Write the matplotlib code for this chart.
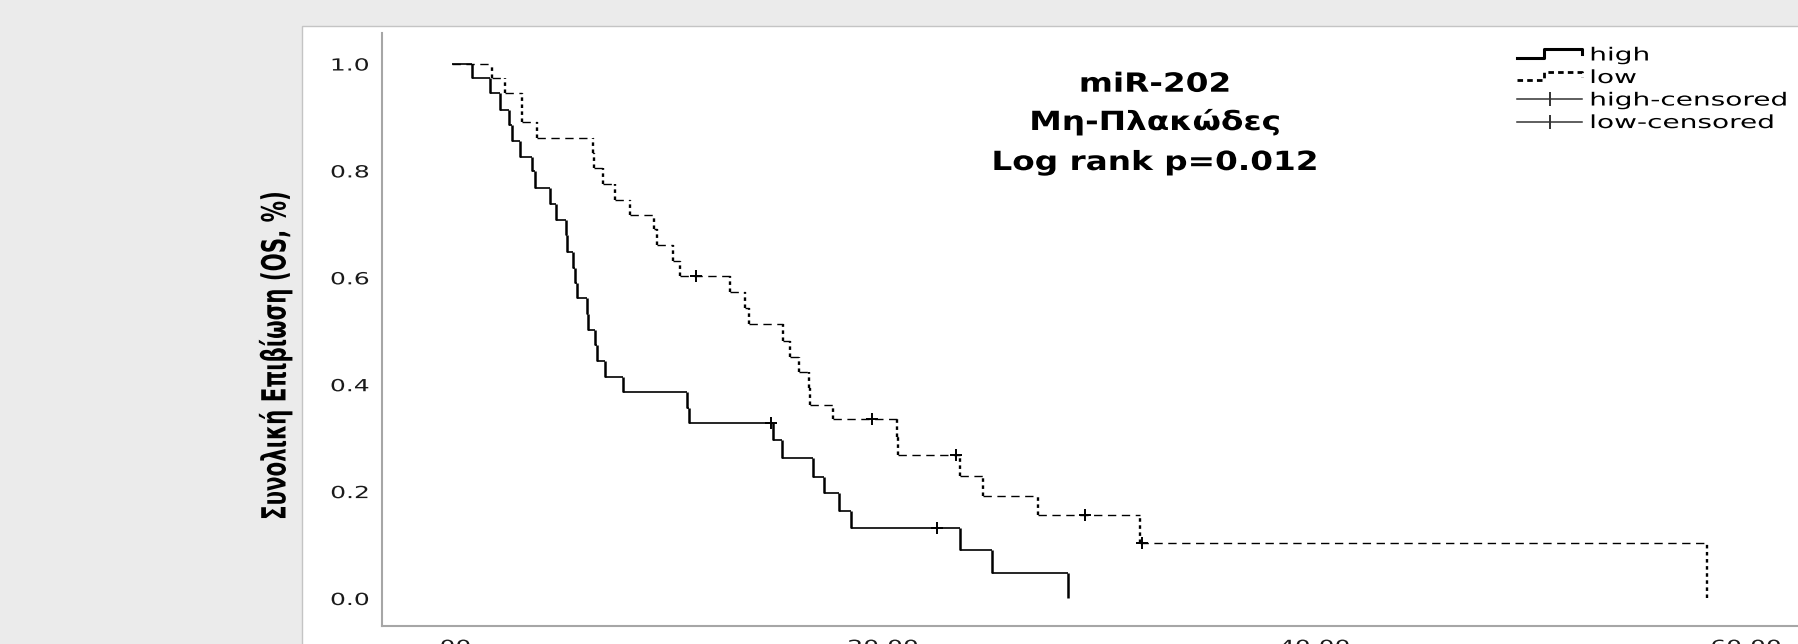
import numpy as np
import matplotlib
matplotlib.use("Agg")
import matplotlib.pyplot as plt
import matplotlib.patheffects as pe
from matplotlib.transforms import Affine2D
from matplotlib.legend_handler import HandlerLine2D
from matplotlib.lines import Line2D
from matplotlib.patches import Rectangle

# Kaplan-Meier steps: time (months) and survival after each event
high_t = [0, 0.97, 1.78, 2.25, 2.68, 2.79, 3.18, 3.72, 3.87, 4.57, 4.85, 5.31, 5.37,
          5.65, 5.73, 5.83, 6.27, 6.34, 6.65, 6.76, 7.12, 7.97, 10.93, 11.0, 14.9,
          15.3, 16.76, 17.27, 17.97, 18.5, 23.56, 25.07, 28.6]
high_s = [1.0, 0.973, 0.944, 0.913, 0.885, 0.855, 0.826, 0.798, 0.768, 0.738, 0.708,
          0.679, 0.648, 0.618, 0.589, 0.561, 0.531, 0.501, 0.473, 0.443, 0.414, 0.385,
          0.356, 0.327, 0.295, 0.262, 0.227, 0.197, 0.162, 0.131, 0.089, 0.047, 0.0]
low_t = [0, 1.86, 2.48, 3.25, 3.27, 3.95, 6.58, 6.6, 7.04, 7.58, 8.28, 9.37, 9.52,
         10.25, 10.61, 12.92, 13.6, 13.8, 15.36, 15.67, 16.11, 16.56, 16.6, 17.7,
         20.64, 20.68, 23.56, 24.63, 27.2, 31.9, 58.2]
low_s = [1.0, 0.973, 0.944, 0.917, 0.891, 0.860, 0.832, 0.804, 0.774, 0.745, 0.717,
         0.690, 0.661, 0.631, 0.602, 0.573, 0.543, 0.512, 0.481, 0.450, 0.423, 0.393,
         0.362, 0.334, 0.301, 0.268, 0.229, 0.191, 0.155, 0.103, 0.0]

# censored cases
high_cens_t = [14.83, 22.5]
high_cens_s = [0.327, 0.131]
low_cens_t = [11.32, 19.48, 23.38, 29.38, 31.99]
low_cens_s = [0.602, 0.334, 0.268, 0.155, 0.103]

xticks = [0, 20, 40, 60]
xtick_labels = [".00", "20.00", "40.00", "60.00"]
yticks = [0.0, 0.2, 0.4, 0.6, 0.8, 1.0]
ytick_labels = ["0.0", "0.2", "0.4", "0.6", "0.8", "1.0"]
legend_labels = ["high", "low", "high-censored", "low-censored"]
title_lines = ["miR-202", "Μη-Πλακώδες", "Log rank p=0.012"]
ylabel = "Συνολική Επιβίωση (OS, %)"

W, H = 1798, 644


class Stretch(pe.AbstractPathEffect):
    # the source picture is squashed vertically, so its glyphs look wide
    def __init__(self, k, anchor=0.5):
        super().__init__()
        self.k = k
        self.anchor = anchor

    def draw_path(self, renderer, gc, tpath, affine, rgbFace=None):
        ext = tpath.get_extents()
        cx = ext.x0 + self.anchor * ext.width
        st = Affine2D().translate(-cx, 0).scale(self.k, 1).translate(cx, 0)
        renderer.draw_path(gc, tpath, st + affine, rgbFace)


class StepHandler(HandlerLine2D):
    # SPSS style legend key: a little step
    def create_artists(self, legend, orig_handle, xdescent, ydescent, width, height,
                       fontsize, trans):
        x0, y0 = -xdescent, -ydescent
        xs = [x0, x0 + 0.42 * width, x0 + 0.42 * width, x0 + width, x0 + width]
        ys = [y0 + 0.2 * height, y0 + 0.2 * height, y0 + 0.9 * height,
              y0 + 0.9 * height, y0 + 0.5 * height]
        line = Line2D(xs, ys)
        self.update_prop(line, orig_handle, legend)
        line.set_transform(trans)
        return [line]


fig = plt.figure(figsize=(W / 100, H / 100), dpi=100, facecolor="#ebebeb")

# white chart panel, behind the axes
fig.patches.append(Rectangle((302 / W, -0.1), 1.0, (H - 26) / H + 0.1,
                             transform=fig.transFigure, facecolor="white",
                             edgecolor="#c4c4c4", lw=1.0, zorder=-5))

ax = fig.add_axes([382 / W, 18 / H, (W - 382) / W, (626 - 33) / H])
ax.set_facecolor("white")


def draw_km(t, s, ct, cs, h_ls, v_ls, h_lw, v_lw):
    t = np.array(t)
    s = np.array(s)
    ax.hlines(s[:-1], t[:-1], t[1:], colors="k", linestyles=h_ls, lw=h_lw)
    ax.vlines(t[1:], s[1:], s[:-1], colors="k", linestyles=v_ls, lw=v_lw)
    ax.plot(ct, cs, "+", color="k", ms=9, mew=1.4)


draw_km(high_t, high_s, high_cens_t, high_cens_s, "-", "-", 1.2, 1.8)
draw_km(low_t, low_s, low_cens_t, low_cens_s, (0, (6, 4)), (0, (1.5, 1.5)), 1.0, 1.7)

ax.set_xlim(-3.222, 62.42)
ax.set_ylim(-0.0524, 1.0571)
ax.set_xticks(xticks)
ax.set_xticklabels(xtick_labels)
ax.set_yticks(yticks)
ax.set_yticklabels(ytick_labels)
ax.tick_params(length=0, labelsize=12, labelcolor="#1a1a1a")
ax.tick_params(axis="y", pad=9.4)
ax.tick_params(axis="x", pad=8.6)
for lab in ax.get_yticklabels():
    lab.set_path_effects([Stretch(1.5, 1.0)])
for lab in ax.get_xticklabels():
    lab.set_path_effects([Stretch(1.5, 0.5)])

for side in ["top", "right"]:
    ax.spines[side].set_visible(False)
for side in ["left", "bottom"]:
    ax.spines[side].set_color("#a6a6a6")
    ax.spines[side].set_linewidth(1.5)

# legend
h_high = Line2D([], [], color="k", lw=2.2)
h_low = Line2D([], [], color="k", lw=2.0, ls=(0, (2, 1.5)))
h_hc = Line2D([], [], color="#333333", lw=1.1, marker="|", ms=10, mew=1.4)
h_lc = Line2D([], [], color="#333333", lw=1.1, marker="|", ms=10, mew=1.4)
leg = ax.legend([h_high, h_low, h_hc, h_lc], legend_labels,
                handler_map={h_high: StepHandler(), h_low: StepHandler()},
                loc="upper left", bbox_to_anchor=(1517 / W, 1 - 46.5 / H),
                bbox_transform=fig.transFigure, frameon=False, fontsize=13,
                handlelength=3.6, handletextpad=0.45, labelspacing=0.25,
                borderpad=0, borderaxespad=0, numpoints=1)
for txt in leg.get_texts():
    txt.set_path_effects([Stretch(1.55, 0.0)])

# title block inside the plot
for line, base in zip(title_lines, [91.7, 130, 170]):
    fig.text(1155 / W, 1 - base / H, line, ha="center", va="baseline",
             fontsize=19, fontweight="bold", color="black",
             path_effects=[Stretch(1.24, 0.5)])

fig.text(275 / W, 1 - 355.5 / H, ylabel, rotation=90, ha="center", va="center",
         fontsize=24, fontweight="bold", color="black",
         path_effects=[Stretch(0.64, 0.5)])

fig.savefig("out.png", dpi=100, facecolor=fig.get_facecolor())
